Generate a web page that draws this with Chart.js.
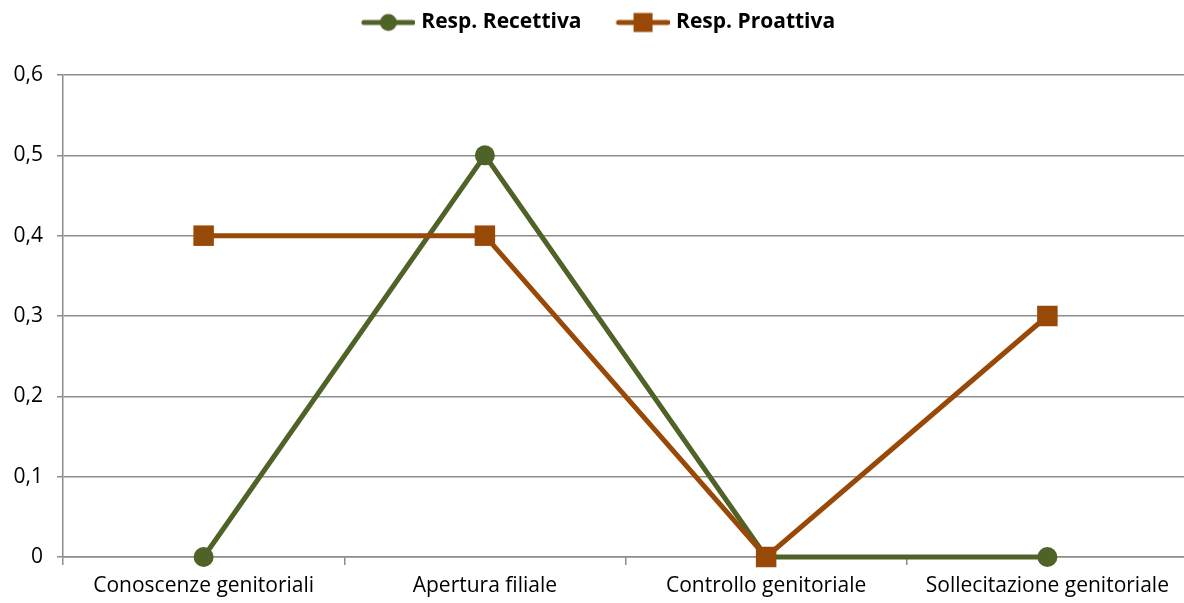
<!DOCTYPE html>
<html>
<head>
<meta charset="utf-8">
<script src="https://cdn.jsdelivr.net/npm/chart.js@4"></script>
<style>
html,body{margin:0;padding:0;background:#fff;overflow:hidden;}
#wrap{width:1190px;height:603px;position:relative;}
</style>
</head>
<body>
<div id="wrap"><canvas id="c" width="1190" height="603"></canvas></div>
<script>
const categories = ['Conoscenze genitoriali', 'Apertura filiale', 'Controllo genitoriale', 'Sollecitazione genitoriale'];
const recettiva = [0, 0.5, 0, 0];
const proattiva = [0.4, 0.4, 0, 0.3];
const seriesNames = ['Resp. Recettiva', 'Resp. Proattiva'];
const yTickLabels = ['0', '0,1', '0,2', '0,3', '0,4', '0,5', '0,6'];

const GREEN = '#4F6228';
const ORANGE = '#984807';
const FONT = "'Open Sans', sans-serif";

function legendImage(color, shape) {
  const cv = document.createElement('canvas');
  cv.width = 84; cv.height = 22;
  const g = cv.getContext('2d');
  g.strokeStyle = color; g.fillStyle = color; g.lineWidth = 5; g.lineCap = 'round';
  g.beginPath(); g.moveTo(33, 11); g.lineTo(82, 11); g.stroke();
  const cx = 57.5;
  if (shape === 'circle') { g.beginPath(); g.arc(cx, 11, 8.5, 0, Math.PI * 2); g.fill(); }
  else { g.fillRect(cx - 9.5, 1.5, 19, 19); }
  return cv;
}
const legendImgs = [legendImage(GREEN, 'circle'), legendImage(ORANGE, 'rect')];

const fixLegend = {
  id: 'fixLegend',
  beforeInit(chart) {
    const lg = chart.legend;
    const orig = lg.fit;
    lg.fit = function () { orig.call(this); this.height = 75; };
  },
  afterLayout(chart) {
    const lg = chart.legend;
    lg.left -= 9; lg.right -= 9;
    lg.top += 4; lg.bottom += 4;
  }
};

new Chart(document.getElementById('c'), {
  type: 'line',
  data: {
    labels: categories,
    datasets: [
      { label: seriesNames[0], data: recettiva, borderColor: GREEN, backgroundColor: GREEN,
        borderWidth: 5, pointStyle: 'circle', pointRadius: 10, pointHoverRadius: 10,
        pointBorderWidth: 0, tension: 0, order: 1, clip: false },
      { label: seriesNames[1], data: proattiva, borderColor: ORANGE, backgroundColor: ORANGE,
        borderWidth: 5, pointStyle: 'rect', pointRadius: 14.5, pointHoverRadius: 14.5,
        pointBorderWidth: 0, tension: 0, order: 0, clip: false }
    ]
  },
  options: {
    responsive: false,
    animation: false,
    devicePixelRatio: 1,
    layout: { autoPadding: false, padding: { left: 0, right: 2, top: 0, bottom: 0 } },
    plugins: {
      tooltip: { enabled: false },
      legend: {
        position: 'top',
        labels: {
          usePointStyle: true,
          pointStyleWidth: 76,
          padding: 8,
          color: '#000',
          font: { family: FONT, size: 21, weight: 'bold' },
          generateLabels(chart) {
            return seriesNames.map((n, i) => ({
              text: n, datasetIndex: i, pointStyle: legendImgs[i],
              fillStyle: 'transparent', strokeStyle: 'transparent', lineWidth: 0, hidden: false
            }));
          }
        }
      }
    },
    scales: {
      x: {
        type: 'category',
        offset: true,
        afterFit(s) { s.height = 46; s.paddingLeft = 0; s.paddingRight = 0; },
        grid: { display: true, offset: true, drawOnChartArea: false, drawTicks: true, tickLength: 8, color: '#8c8c8c', lineWidth: 1.5 },
        border: { display: true, color: '#8c8c8c', width: 1.5 },
        ticks: { color: '#000', padding: 8, maxRotation: 0, autoSkip: false, font: { family: FONT, size: 21 } }
      },
      y: {
        min: 0, max: 0.6,
        afterFit(s) { s.width = 63; s.paddingTop = 0; s.paddingBottom = 0; },
        grid: { color: '#8c8c8c', lineWidth: 1.5, tickLength: 6, drawTicks: true },
        border: { display: true, color: '#8c8c8c', width: 1.5 },
        ticks: { stepSize: 0.1, color: '#000', padding: 14, font: { family: FONT, size: 21 },
          callback(v, i) { return yTickLabels[i]; } }
      }
    }
  },
  plugins: [fixLegend]
});
</script>
</body>
</html>
